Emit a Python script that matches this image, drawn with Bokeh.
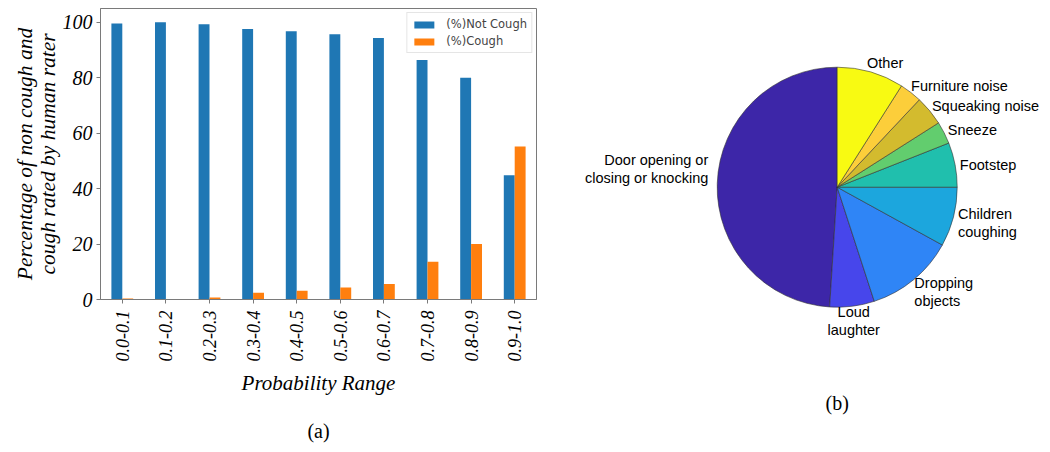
import math
from bokeh.plotting import figure
from bokeh.models import ColumnDataSource, Range1d, FixedTicker, LinearAxis
from bokeh.layouts import row, column
from bokeh.embed import file_html
from bokeh.resources import INLINE
from bokeh.core.properties import value

# ---------------- data ----------------
ranges = ["0.0-0.1", "0.1-0.2", "0.2-0.3", "0.3-0.4", "0.4-0.5",
          "0.5-0.6", "0.6-0.7", "0.7-0.8", "0.8-0.9", "0.9-1.0"]
not_cough = [99.6, 100.0, 99.3, 97.6, 96.8, 95.7, 94.4, 86.4, 80.0, 44.8]
cough = [0.4, 0.0, 0.7, 2.4, 3.2, 4.3, 5.6, 13.6, 20.0, 55.2]
y_ticks = [0, 20, 40, 60, 80, 100]

pie_labels = ["Door opening or\nclosing or knocking", "Loud\nlaughter", "Dropping\nobjects",
              "Children\ncoughing", "Footstep", "Sneeze", "Squeaking noise",
              "Furniture noise", "Other"]
pie_values = [49, 6, 12, 8, 6, 3, 4, 3, 9]
pie_colors = ["#3d26a8", "#4746eb", "#2f85f6", "#1ca6dd", "#20bfad",
              "#62cd6e", "#d3bb2e", "#fcce3a", "#f8fa12"]

# ---------------- left: bar chart ----------------
SERIF = "Liberation Serif"
SPINE = "#7a7a7a"
H = 452

p = figure(width=560, height=H, x_range=Range1d(-0.5, 9.5), y_range=Range1d(0, 105),
           output_backend="svg", toolbar_location=None,
           min_border_left=100, min_border_right=24, min_border_top=8, min_border_bottom=153)

idx = list(range(len(ranges)))
src = ColumnDataSource(dict(
    xn=[i - 0.125 for i in idx], xc=[i + 0.125 for i in idx],
    nc=not_cough, c=cough))
p.vbar(x="xn", top="nc", width=0.25, source=src, fill_color="#1f77b4",
       line_color=None, legend_label="(%)Not Cough")
p.vbar(x="xc", top="c", width=0.25, source=src, fill_color="#ff7f0e",
       line_color=None, legend_label="(%)Cough")

p.xgrid.visible = False
p.ygrid.visible = False
p.outline_line_color = SPINE
p.outline_line_width = 1

p.xaxis.ticker = FixedTicker(ticks=idx)
p.xaxis.major_label_overrides = {i: r for i, r in enumerate(ranges)}
p.xaxis.major_label_orientation = math.pi / 2
p.yaxis.ticker = FixedTicker(ticks=y_ticks)

for ax in (p.xaxis[0], p.yaxis[0]):
    ax.axis_line_color = SPINE
    ax.major_tick_line_color = SPINE
    ax.minor_tick_line_color = None
    ax.major_tick_in = 0
    ax.major_tick_out = 4
    ax.major_label_text_font = SERIF
    ax.major_label_text_font_style = "italic"
    ax.major_label_text_color = "black"
    ax.axis_label_text_font = SERIF
    ax.axis_label_text_font_style = "italic"
    ax.axis_label_text_color = "black"

p.xaxis.major_label_text_font_size = "18px"
p.xaxis.major_label_standoff = 7
p.yaxis.major_label_text_font_size = "20px"
p.yaxis.major_label_standoff = 4

p.xaxis.axis_label = "Probability Range"
p.xaxis.axis_label_text_font_size = "21px"
p.xaxis.axis_label_standoff = 7
p.yaxis.axis_label = "Percentage of non cough and\ncough rated by human rater"
p.yaxis.axis_label_text_font_size = "21.5px"
p.yaxis.axis_label_text_line_height = 0.95
p.yaxis.axis_label_standoff = 0

# caption "(a)" as a bare extra axis below the first one
cap = LinearAxis(ticker=FixedTicker(ticks=[]), axis_label="(a)",
                 axis_line_color=None, major_tick_line_color=None,
                 minor_tick_line_color=None, major_tick_out=0, major_tick_in=0,
                 major_label_text_font_size="0px", axis_label_standoff=21,
                 axis_label_text_font=SERIF, axis_label_text_font_style="normal",
                 axis_label_text_font_size="20px", axis_label_text_color="black")
p.add_layout(cap, "below")

lg = p.legend[0]
lg.location = "top_right"
lg.margin = 4
lg.padding = 4
lg.spacing = 3
lg.glyph_width = 25
lg.glyph_height = 9
lg.label_height = 13
lg.label_standoff = 10
lg.label_text_font = "DejaVu Sans"
lg.label_text_font_size = "11.5px"
lg.border_line_color = "#cccccc"
lg.background_fill_alpha = 0.9

# ---------------- right: pie chart ----------------
W2, H2 = 490, H
p2 = figure(width=W2, height=H2, x_range=Range1d(0, W2), y_range=Range1d(0, H2),
            output_backend="svg", toolbar_location=None, min_border=0,
            x_axis_location=None, y_axis_location=None)
p2.xgrid.visible = False
p2.ygrid.visible = False
p2.outline_line_color = None

cx, cy, R = 276.7, 265.3, 120.0
total = float(sum(pie_values))
starts, ends, cum = [], [], 0.0
for v in pie_values:
    starts.append(math.radians(90 + 360 * cum / total))
    cum += v
    ends.append(math.radians(90 + 360 * cum / total))

p2.wedge(x=cx, y=cy, radius=R, start_angle=starts, end_angle=ends,
         direction="anticlock", fill_color=pie_colors,
         line_color="#333333", line_alpha=0.75, line_width=0.8)

lx, ly, al, bl, xo = [], [], [], [], []
for s, e in zip(starts, ends):
    m = (s + e) / 2
    c = math.cos(m)
    lx.append(cx + 1.1 * R * c)
    ly.append(cy + 1.1 * R * math.sin(m))
    if c > 0.2:
        al.append("left"); bl.append("middle"); xo.append(-7)
    elif c < -0.2:
        al.append("right"); bl.append("bottom"); xo.append(3)
    else:
        al.append("center"); bl.append("middle"); xo.append(0)

lsrc = ColumnDataSource(dict(x=lx, y=ly, t=pie_labels, a=al, b=bl, xo=xo))
p2.text(x="x", y="y", text="t", source=lsrc, text_align="a", text_baseline="b",
        x_offset="xo", y_offset=3, text_font=value("Liberation Sans"),
        text_font_size="14.5px", text_color="black", text_line_height=1.15)

p2.text(x=[cx], y=[50], text=["(b)"], text_align="center", text_baseline="middle",
        text_font=value(SERIF), text_font_size="20px", text_color="black")

layout = row(p, column(p2))
open("out.html", "w").write(file_html(layout, INLINE))
